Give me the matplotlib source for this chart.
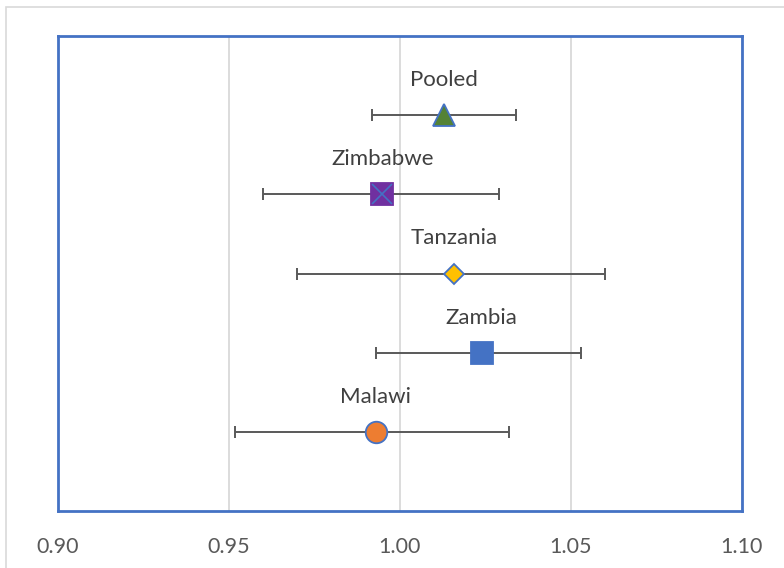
import matplotlib
matplotlib.use("Agg")
import matplotlib.pyplot as plt
from matplotlib.patches import Rectangle

plt.rcParams['font.family'] = ['Lato', 'DejaVu Sans']

# Estimates with 95% confidence intervals, bottom to top
countries = ['Malawi', 'Zambia', 'Tanzania', 'Zimbabwe', 'Pooled']
estimate = [0.993, 1.024, 1.016, 0.995, 1.013]
ci_low = [0.952, 0.993, 0.970, 0.960, 0.992]
ci_high = [1.032, 1.053, 1.060, 1.029, 1.034]
xticks = [0.90, 0.95, 1.00, 1.05, 1.10]

# marker, face colour, edge colour, size (points)
styles = {
    'Malawi': ('o', '#ED7D31', '#4472C4', 15.5),
    'Zambia': ('s', '#4472C4', '#4472C4', 16),
    'Tanzania': ('D', '#FFC000', '#4472C4', 10.5),
    'Zimbabwe': ('s', '#7030A0', '#7030A0', 15.5),
    'Pooled': ('^', '#548235', '#4472C4', 16),
}

fig = plt.figure(figsize=(7.84, 5.68), dpi=100)
ax = fig.add_axes([57.5 / 784, 1 - 511 / 568, 684 / 784, 475 / 568])

# light chart-area frame
fig.patches.append(Rectangle((6 / 784, -0.1), 1.2, 1 - 7 / 568 + 0.1,
                             transform=fig.transFigure, fill=False,
                             edgecolor='#d9d9d9', linewidth=1.2))

for i, name in enumerate(countries):
    y = i + 1
    est = estimate[i]
    ax.errorbar(est, y, xerr=[[est - ci_low[i]], [ci_high[i] - est]],
                fmt='none', ecolor='#595959', elinewidth=1.4,
                capsize=4.5, capthick=1.4, zorder=2)
    m, fc, ec, ms = styles[name]
    ax.plot(est, y, marker=m, markersize=ms, markerfacecolor=fc,
            markeredgecolor=ec, markeredgewidth=1.3, linestyle='none', zorder=3)
    if name == 'Zimbabwe':
        ax.plot(est, y, marker='x', markersize=ms * 0.95, markeredgecolor='#4472C4',
                markeredgewidth=1.2, linestyle='none', zorder=4)
    ax.annotate(name, (est, y), xytext=(0, 21), textcoords='offset points',
                ha='center', va='baseline', fontsize=16, color='#404040')

ax.set_xlim(0.90, 1.10)
ax.set_ylim(0, 6)
ax.set_xticks(xticks)
ax.set_xticklabels([f'{t:.2f}' for t in xticks])
ax.set_yticks([])
ax.tick_params(axis='x', length=0, pad=19, labelsize=15.5, labelcolor='#595959')
ax.grid(axis='x', color='#d9d9d9', linewidth=1.3)
ax.set_axisbelow(True)
for sp in ax.spines.values():
    sp.set_color('#4472C4')
    sp.set_linewidth(2)

fig.savefig('out.png', dpi=100)
